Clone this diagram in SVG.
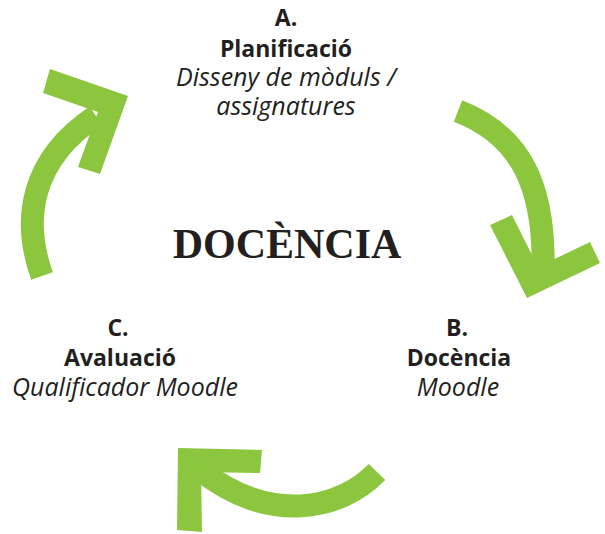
<svg xmlns="http://www.w3.org/2000/svg" width="605" height="534" viewBox="0 0 605 534">
<style>
.shaft{fill:none;stroke:#8cc63f;stroke-width:23}
.head{fill:#8cc63f}
.t{font-family:"Open Sans","Noto Sans",sans-serif;font-size:23px;fill:#231f20;text-anchor:middle}
.b{font-weight:bold}
.i{font-style:italic;font-size:25px}
.title{font-family:"Liberation Serif","DejaVu Serif",serif;font-weight:bold;font-size:42px;fill:#231f20;text-anchor:middle}
</style>
<rect width="605" height="534" fill="#ffffff"/>
<g id="connectors">
<g id="arrow-c-a">
<path class="shaft" d="M42,276 C22,220 30,160 96,116"/>
<polygon class="head" points="50,69 128,96 100,174 78,167 98,112 43,93"/>
</g>
<g id="arrow-a-b">
<path class="shaft" d="M458,111 C520,135 545,185 543,270"/>
<polygon class="head" points="490,225 512,215 538,267 590,242 600,263 527,298"/>
</g>
<g id="arrow-b-c">
<path class="shaft" d="M377,472 C340,510 270,525 200,470"/>
<polygon class="head" points="262,450 260,473 201,472 202,532 177,530 178,448"/>
</g>
</g>
<g id="center">
<text class="title" x="287" y="258">DOCÈNCIA</text>
</g>
<g id="node-a">
<text class="t b" x="286" y="26">A.</text>
<text class="t b" x="286" y="57">Planificació</text>
<text class="t i" x="286" y="86">Disseny de mòduls /</text>
<text class="t i" x="286" y="115">assignatures</text>
</g>
<g id="node-b">
<text class="t b" x="457" y="336">B.</text>
<text class="t b" x="459" y="366">Docència</text>
<text class="t i" x="458" y="396">Moodle</text>
</g>
<g id="node-c">
<text class="t b" x="118" y="336">C.</text>
<text class="t b" x="120" y="366">Avaluació</text>
<text class="t i" x="125" y="396">Qualificador Moodle</text>
</g>
</svg>
